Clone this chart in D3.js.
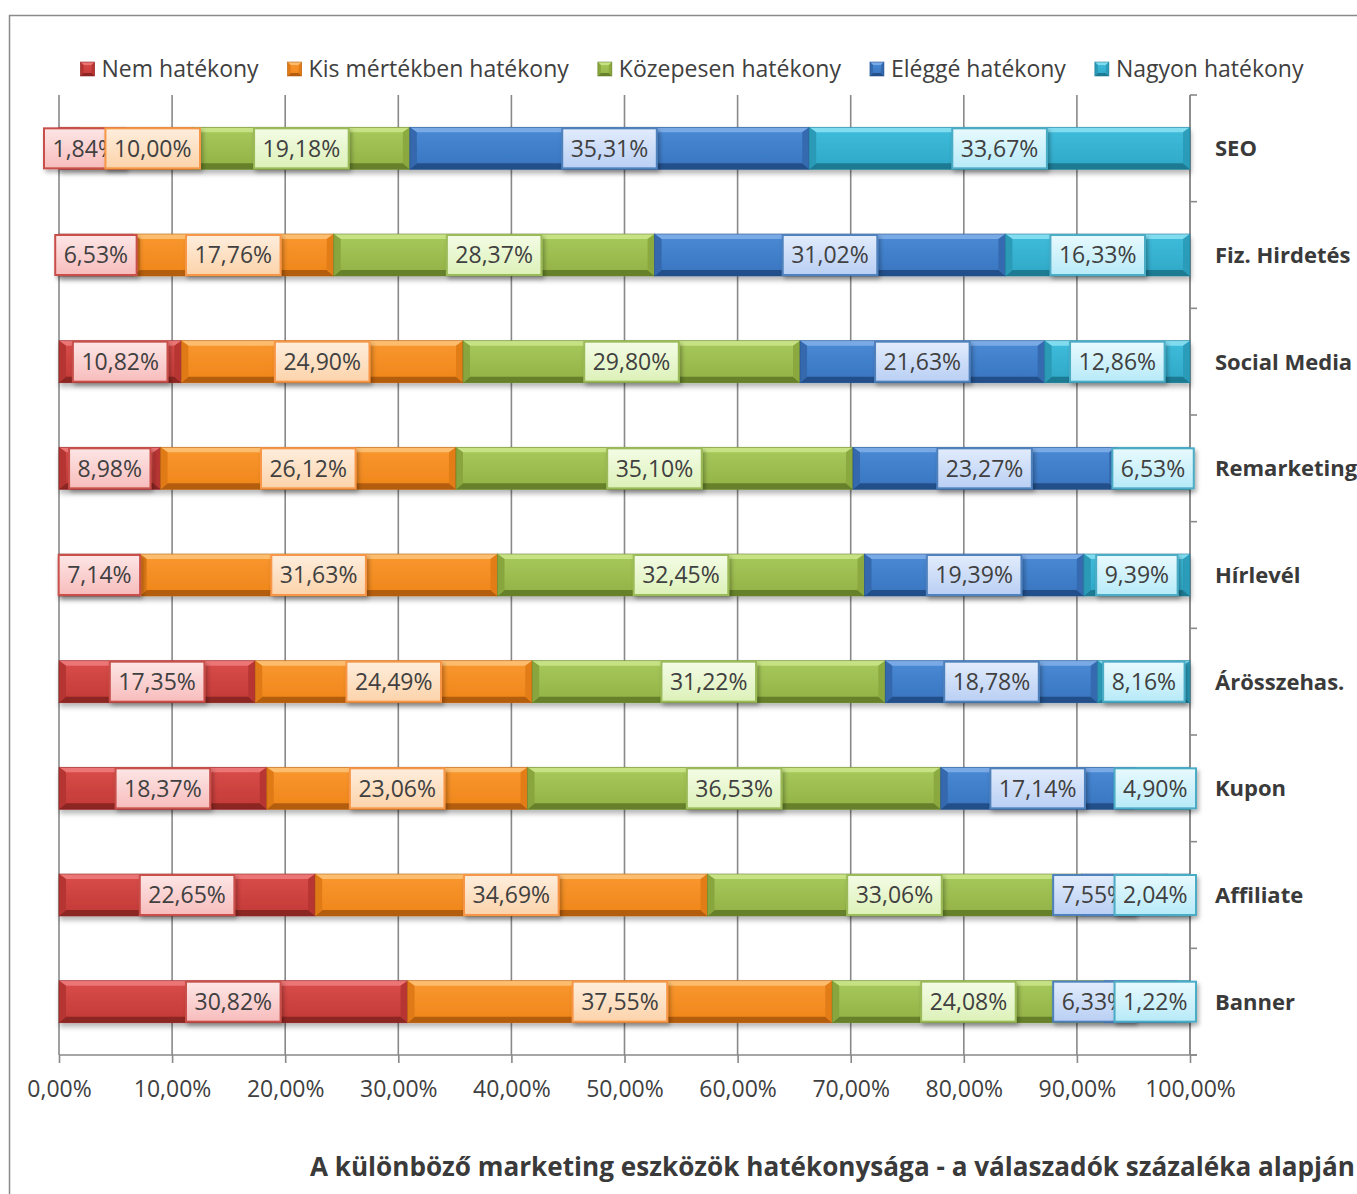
<!DOCTYPE html>
<html>
<head>
<meta charset="utf-8">
<script src="https://cdn.jsdelivr.net/npm/d3@7"></script>
<style>
  html, body { margin: 0; padding: 0; background: #fff; }
  svg { display: block; }
  text { font-family: "Open Sans", "DejaVu Sans", sans-serif; }
</style>
</head>
<body>
<svg id="chart" width="1357" height="1194"></svg>
<script>
// ---------- DATA ----------
const categories = ["SEO", "Fiz. Hirdetés", "Social Media", "Remarketing", "Hírlevél", "Árösszehas.", "Kupon", "Affiliate", "Banner"];
const seriesNames = ["Nem hatékony", "Kis mértékben hatékony", "Közepesen hatékony", "Eléggé hatékony", "Nagyon hatékony"];
const nemHatekony      = [1.84, 6.53, 10.82, 8.98, 7.14, 17.35, 18.37, 22.65, 30.82];
const kisMertekben     = [10.00, 17.76, 24.90, 26.12, 31.63, 24.49, 23.06, 34.69, 37.55];
const kozepesen        = [19.18, 28.37, 29.80, 35.10, 32.45, 31.22, 36.53, 33.06, 24.08];
const elegge           = [35.31, 31.02, 21.63, 23.27, 19.39, 18.78, 17.14, 7.55, 6.33];
const nagyon           = [33.67, 16.33, 12.86, 6.53, 9.39, 8.16, 4.90, 2.04, 1.22];
const tickValues = [0, 10, 20, 30, 40, 50, 60, 70, 80, 90, 100];
const chartTitle = "A különböző marketing eszközök hatékonysága - a válaszadók százaléka alapján";

const seriesValues = [nemHatekony, kisMertekben, kozepesen, elegge, nagyon];

// ---------- STYLE ----------
const barPal = [
  { light: "#ec7474", f1: "#d94c4a", f2: "#c23a36", side: "#b43431", dark: "#8c2523" },
  { light: "#fdbd6e", f1: "#f9972f", f2: "#ef851a", side: "#e07a17", dark: "#b45d0f" },
  { light: "#c7e285", f1: "#a7c95c", f2: "#93b145", side: "#88a63d", dark: "#66812b" },
  { light: "#7aaae6", f1: "#4a8ad5", f2: "#3874bf", side: "#3468ad", dark: "#24508a" },
  { light: "#82dcf0", f1: "#3fbddc", f2: "#2fa7c6", side: "#2b9ab7", dark: "#1e7a93" }
];
const labPal = [
  { t: "#fde6e6", b: "#f8bcbc", s: "#c9504c" },
  { t: "#feeedd", b: "#fcd3aa", s: "#f79646" },
  { t: "#f4fce6", b: "#dcf1b8", s: "#9bbb59" },
  { t: "#e2ecfc", b: "#b9cff4", s: "#4f81bd" },
  { t: "#e8fafe", b: "#b7eaf8", s: "#4bacc6" }
];

const svg = d3.select("#chart");
const W = 1357, H = 1194;
const textColor = "#404040";
const gridColor = "#898989";

const locale = d3.formatLocale({ decimal: ",", thousands: " ", grouping: [3], currency: ["", " Ft"] });
const fmt = v => locale.format(".2f")(v) + "%";

// defs
const defs = svg.append("defs");
const fs = defs.append("filter").attr("id", "barShadow").attr("x", "-5%").attr("y", "-30%").attr("width", "110%").attr("height", "180%");
fs.append("feDropShadow").attr("dx", 1).attr("dy", 4).attr("stdDeviation", 2.5).attr("flood-color", "#000").attr("flood-opacity", 0.28);
const fl = defs.append("filter").attr("id", "labShadow").attr("x", "-20%").attr("y", "-30%").attr("width", "140%").attr("height", "180%");
fl.append("feDropShadow").attr("dx", 2).attr("dy", 3).attr("stdDeviation", 2).attr("flood-color", "#000").attr("flood-opacity", 0.3);

barPal.forEach((p, i) => {
  const g = defs.append("linearGradient").attr("id", "face" + i).attr("x1", 0).attr("y1", 0).attr("x2", 0).attr("y2", 1);
  g.append("stop").attr("offset", "0%").attr("stop-color", p.f1);
  g.append("stop").attr("offset", "100%").attr("stop-color", p.f2);
});
labPal.forEach((p, i) => {
  const g = defs.append("linearGradient").attr("id", "lab" + i).attr("x1", 0).attr("y1", 0).attr("x2", 0).attr("y2", 1);
  g.append("stop").attr("offset", "0%").attr("stop-color", p.t);
  g.append("stop").attr("offset", "100%").attr("stop-color", p.b);
});

// frame
svg.append("rect").attr("x", 9.5).attr("y", 15.5).attr("width", W + 20).attr("height", H + 20)
  .attr("fill", "#fff").attr("stroke", "#8a8a8a").attr("stroke-width", 1.5);

// scales
const x = d3.scaleLinear().domain([0, 100]).range([59, 1190]);
const y = d3.scaleBand().domain(categories).range([95, 1055]).paddingInner(0.606).paddingOuter(0.303);

// gridlines
svg.append("g").selectAll("line").data(tickValues).join("line")
  .attr("x1", d => x(d)).attr("x2", d => x(d))
  .attr("y1", 95).attr("y2", 1055)
  .attr("stroke", gridColor).attr("stroke-width", 1.6);

// bottom axis
const xAxis = d3.axisBottom(x).tickValues(tickValues).tickFormat(fmt).tickSize(8).tickPadding(18);
const gx = svg.append("g").attr("transform", "translate(0,1055)").call(xAxis);
gx.select(".domain").remove();
gx.append("line").attr("x1", x(0)).attr("x2", x(100) + 7).attr("y1", 0).attr("y2", 0).attr("stroke", gridColor).attr("stroke-width", 1.6);
gx.selectAll(".tick line").attr("stroke", gridColor).attr("stroke-width", 1.6);
gx.selectAll(".tick text").attr("fill", textColor).style("font-size", "23px").style("font-family", "'Open Sans', sans-serif");

// right category axis with ticks between categories
const gy = svg.append("g");
gy.append("line").attr("x1", x(100)).attr("x2", x(100)).attr("y1", 95).attr("y2", 1055).attr("stroke", gridColor).attr("stroke-width", 1.6);
const bounds = categories.map(c => y(c) - y.step() * y.paddingInner() / 2).concat([1055]);
gy.selectAll("line.tk").data(bounds).join("line").attr("class", "tk")
  .attr("x1", x(100)).attr("x2", x(100) + 7).attr("y1", d => d).attr("y2", d => d)
  .attr("stroke", gridColor).attr("stroke-width", 1.6);
gy.selectAll("text").data(categories).join("text")
  .attr("x", 1215).attr("y", d => y(d) + y.bandwidth() / 2).attr("dy", "0.36em")
  .attr("fill", "#3a3a3a").style("font-size", "22px").style("font-weight", "700")
  .text(d => d);

// bevel drawing helper
function bevel(g, bx0, by0, w, h, p, idx, b) {
  const bxw = Math.min(b.x, w / 2), bt = b.t, bb = b.b;
  const x1 = bx0 + w, y1 = by0 + h;
  const pts = a => a.map(q => q.join(",")).join(" ");
  g.append("rect").attr("x", bx0).attr("y", by0).attr("width", w).attr("height", h).attr("fill", "url(#face" + idx + ")");
  g.append("polygon").attr("points", pts([[bx0, by0], [x1, by0], [x1 - bxw, by0 + bt], [bx0 + bxw, by0 + bt]])).attr("fill", p.light);
  g.append("polygon").attr("points", pts([[bx0, y1], [x1, y1], [x1 - bxw, y1 - bb], [bx0 + bxw, y1 - bb]])).attr("fill", p.dark);
  g.append("polygon").attr("points", pts([[bx0, by0], [bx0 + bxw, by0 + bt], [bx0 + bxw, y1 - bb], [bx0, y1]])).attr("fill", p.side);
  g.append("polygon").attr("points", pts([[x1, by0], [x1 - bxw, by0 + bt], [x1 - bxw, y1 - bb], [x1, y1]])).attr("fill", p.side).attr("opacity", 0.9);
  g.append("rect").attr("x", bx0).attr("y", by0).attr("width", w).attr("height", h)
    .attr("fill", "none").attr("stroke", p.dark).attr("stroke-width", 0.8).attr("stroke-opacity", 0.7);
}

// stacked data
const rows = categories.map((c, ci) => {
  let acc = 0;
  return seriesValues.map((arr, si) => {
    const v = arr[ci];
    const seg = { cat: c, si, v, x0: acc, x1: acc + v };
    acc += v;
    return seg;
  });
});

// bars
const barsG = svg.append("g");
rows.forEach(row => {
  const rg = barsG.append("g").attr("filter", "url(#barShadow)");
  row.forEach(seg => {
    const sx = x(seg.x0), ex = Math.min(x(seg.x1), x(100));
    bevel(rg, sx, y(seg.cat), ex - sx, y.bandwidth(), barPal[seg.si], seg.si, { x: 7, t: 5, b: 6 });
  });
});

// measure helper
const meas = svg.append("text").style("font-size", "23px").attr("x", -1000).attr("y", -1000);
function tw(s, size, weight) {
  meas.style("font-size", size + "px").style("font-weight", weight || "400").text(s);
  return meas.node().getComputedTextLength();
}

// labels
const labG = svg.append("g");
const pad = 17, LH = 40, minL = 44, maxR = 1196, allowOv = 20;
rows.forEach(row => {
  const boxes = row.map(seg => {
    const t = fmt(seg.v);
    const w = tw(t, 23) + pad;
    const cx = x((seg.x0 + Math.min(seg.x1, 100)) / 2);
    let l = cx - w / 2;
    l = Math.max(l, minL);
    l = Math.min(l, maxR - w);
    return { seg, t, w, l };
  });
  for (let i = 1; i < boxes.length; i++) {
    const lim = boxes[i - 1].l + boxes[i - 1].w - allowOv;
    if (boxes[i].l < lim) boxes[i].l = Math.min(lim, maxR - boxes[i].w);
  }
  for (let i = boxes.length - 2; i >= 0; i--) {
    const lim = boxes[i + 1].l + allowOv;
    if (boxes[i].l + boxes[i].w > lim) boxes[i].l = lim - boxes[i].w;
  }
  const cy = y(row[0].cat) + y.bandwidth() / 2;
  boxes.forEach(b => {
    const g = labG.append("g");
    g.append("rect").attr("x", b.l).attr("y", cy - LH / 2).attr("width", b.w).attr("height", LH)
      .attr("fill", "url(#lab" + b.seg.si + ")").attr("stroke", labPal[b.seg.si].s).attr("stroke-width", 2)
      .attr("filter", "url(#labShadow)");
    g.append("text").attr("x", b.l + b.w / 2).attr("y", cy).attr("dy", "0.36em")
      .attr("text-anchor", "middle").attr("fill", textColor).style("font-size", "23px").text(b.t);
  });
});

// legend
const legG = svg.append("g");
const legWidths = seriesNames.map(n => 14 + 7 + tw(n, 23));
const gap = 29;
const totalLeg = d3.sum(legWidths) + gap * (seriesNames.length - 1);
let lx = 692 - totalLeg / 2;
seriesNames.forEach((n, i) => {
  const mg = legG.append("g");
  bevel(mg, lx, 62, 14, 14, barPal[i], i, { x: 3, t: 3, b: 3 });
  legG.append("text").attr("x", lx + 21).attr("y", 69).attr("dy", "0.36em")
    .attr("fill", textColor).style("font-size", "23px").text(n);
  lx += legWidths[i] + gap;
});

// title
const titleW = tw(chartTitle, 24, "700");
const titleSize = 24 * 1046 / titleW;
svg.append("text").attr("x", 1355).attr("y", 1176).attr("text-anchor", "end")
  .attr("fill", "#3a3a3a").style("font-size", titleSize + "px").style("font-weight", "700")
  .text(chartTitle);

meas.remove();
</script>
</body>
</html>
